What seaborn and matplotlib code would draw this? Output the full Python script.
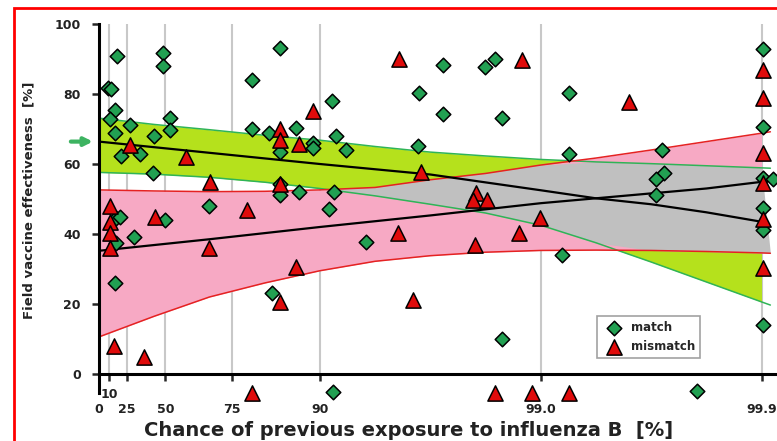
import matplotlib
matplotlib.use("Agg")
import matplotlib.pyplot as plt
from matplotlib.patches import Rectangle
import seaborn as sns
import numpy as np

# x values are in exposure units: -log10(1 - p/100), so 90% -> 1, 99% -> 2, 99.9% -> 3
match_x = [0.080, 0.292, 0.292, 0.042, 0.055, 0.073, 0.050, 0.141, 0.323, 0.073,
           0.250, 0.320, 0.098, 0.184, 0.245, 0.500, 0.077, 0.093, 0.160, 0.298,
           0.075, 0.073, 0.820, 0.693, 1.057, 0.693, 0.770, 0.890, 0.967, 0.970,
           1.073, 0.820, 1.118, 0.820, 0.820, 0.907, 1.066, 1.043, 0.785, 1.058,
           1.209, 1.557, 1.747, 1.793, 1.451, 1.557, 1.825, 1.444, 1.827, 2.127,
           2.127, 2.098, 2.550, 2.558, 2.523, 2.523, 2.709, 3.005, 3.005, 3.005,
           3.053, 3.005, 3.005, 3.005]
match_y = [90.9, 91.6, 88.1, 81.8, 81.3, 75.4, 73.0, 71.1, 73.1, 68.9,
           68.1, 69.7, 62.3, 62.9, 57.3, 48.1, 44.7, 44.9, 39.2, 44.0,
           37.3, 26.1, 93.2, 84.1, 78.1, 69.9, 68.8, 70.2, 65.9, 64.5,
           68.0, 63.5, 63.9, 54.4, 51.1, 52.0, 52.1, 47.1, 23.2, -5.1,
           37.8, 88.3, 87.7, 90.0, 80.2, 74.2, 73.1, 65.1, 9.9, 80.2,
           62.8, 34.1, 64.0, 57.3, 55.6, 51.1, -4.9, 92.8, 70.7, 55.9,
           55.6, 47.3, 41.1, 14.0]

mismatch_x = [0.141, 0.393, 0.501, 0.052, 0.050, 0.050, 0.050, 0.252, 0.066, 0.202,
              0.498, 0.970, 0.820, 0.820, 0.906, 0.820, 0.670, 0.890, 0.820, 0.694,
              1.353, 1.424, 1.792, 1.702, 1.900, 1.360, 1.914, 1.456, 1.705, 1.695,
              1.755, 1.997, 1.962, 2.130, 2.399, 3.005, 3.005, 3.005, 3.005, 3.005,
              3.005]
mismatch_y = [65.4, 62.1, 54.9, 47.9, 43.5, 40.4, 36.0, 44.9, 8.1, 5.0,
              35.9, 75.2, 69.9, 66.9, 65.7, 54.2, 46.9, 30.7, 20.7, -5.3,
              40.2, 21.1, -5.3, 36.9, 40.2, 89.9, 89.7, 57.8, 51.6, 49.6,
              49.7, 44.5, -5.3, -5.3, 77.8, 86.9, 78.8, 63.1, 54.7, 44.2,
              30.4]

# regression lines and confidence bands, read at these x positions
band_x = [0, 0.25, 0.5, 0.75, 1.0, 1.25, 1.5, 1.75, 2.0, 2.25, 2.5, 2.75, 3.0, 3.04]
match_hi = [73.1, 71.3, 69.8, 68.2, 66.8, 65.0, 63.4, 62.3, 61.3, 60.6, 60.1, 59.5, 58.9, 58.8]
match_lo = [57.6, 57.1, 56.2, 54.8, 53.0, 50.9, 48.5, 46.0, 42.5, 37.5, 32.0, 26.3, 20.6, 19.7]
mis_hi = [52.6, 52.3, 52.1, 52.2, 52.6, 53.3, 55.5, 57.3, 59.7, 61.7, 64.0, 66.4, 68.8, 69.2]
mis_lo = [10.6, 16.5, 22.0, 26.0, 29.5, 32.2, 33.8, 34.8, 35.3, 35.4, 35.3, 35.0, 34.6, 34.5]

fit_x = [0, 0.5, 1.0, 1.5, 2.0, 2.25, 2.5, 2.75, 3.0]
match_fit = [66.4, 63.2, 60.0, 57.0, 52.5, 50.2, 48.5, 46.2, 43.5]
mis_fit = [35.2, 38.5, 42.0, 45.3, 48.8, 50.2, 51.6, 53.0, 54.9]

tick_pct = [0, 25, 50, 75, 90, 99, 99.9]
tick_lab = ['0', '25', '50', '75', '90', '99.0', '99.9']
tick_pct_upper = [10]
tick_lab_upper = ['10']

sns.set_style("white")
plt.rcParams['font.family'] = ['DejaVu Sans']
plt.rcParams['font.weight'] = 'bold'

fig = plt.figure(figsize=(7.77, 4.41), dpi=100)
ax = fig.add_axes([99 / 777, 1 - 402 / 441, 678 / 777, 378 / 441])


def expo(p):
    return -np.log10(1 - np.array(p, dtype=float) / 100.0)


tick_pos = expo(tick_pct)
tick_pos_upper = expo(tick_pct_upper)

# vertical grey guides
ax.vlines(np.concatenate([tick_pos_upper, tick_pos[1:]]), 0, 100,
          color='#c8c8c8', lw=1.5, zorder=0)

bx = np.array(band_x)
inside = bx <= 3.0
m_hi, m_lo = np.array(match_hi), np.array(match_lo)
x_hi, x_lo = np.array(mis_hi), np.array(mis_lo)

ax.fill_between(bx, m_lo, m_hi, where=inside, color='#b5e11c', lw=0, zorder=1)
ax.fill_between(bx, x_lo, x_hi, where=inside, color='#f7a9c4', lw=0, zorder=1.1)
ov_lo = np.maximum(m_lo, x_lo)
ov_hi = np.minimum(m_hi, x_hi)
ax.fill_between(bx, ov_lo, ov_hi, where=(ov_hi > ov_lo) & inside, interpolate=True,
                color='#c0c0c0', lw=0, zorder=1.2)

green_line = '#2fb457'
red_line = '#e52222'
sns.lineplot(x=band_x, y=match_hi, color=green_line, lw=1.1, ax=ax, zorder=2)
sns.lineplot(x=band_x, y=match_lo, color=green_line, lw=1.1, ax=ax, zorder=2)
sns.lineplot(x=band_x, y=mis_hi, color=red_line, lw=1.1, ax=ax, zorder=2)
sns.lineplot(x=band_x, y=mis_lo, color=red_line, lw=1.1, ax=ax, zorder=2)
sns.lineplot(x=fit_x, y=match_fit, color='black', lw=1.6, ax=ax, zorder=3)
sns.lineplot(x=fit_x, y=mis_fit, color='black', lw=1.6, ax=ax, zorder=3)

sns.scatterplot(x=match_x, y=match_y, marker='D', s=55, color='#22a052',
                edgecolor='black', linewidth=1.1, label='match', ax=ax,
                zorder=5, clip_on=False)
sns.scatterplot(x=mismatch_x, y=mismatch_y, marker='^', s=120, color='#e00b0b',
                edgecolor='black', linewidth=1.1, label='mismatch', ax=ax,
                zorder=5, clip_on=False)

# green arrow at the overall estimate
ax.annotate('', xy=(-0.015, 66.4), xytext=(-0.14, 66.4),
            arrowprops=dict(arrowstyle='-|>', color='#3db361', lw=3, mutation_scale=12),
            annotation_clip=False)

ax.set_xlim(0, 3.07)
ax.set_ylim(-8, 100)
ax.spines['top'].set_visible(False)
ax.spines['right'].set_visible(False)
ax.spines['bottom'].set_position(('data', 0))
ax.spines['bottom'].set_linewidth(2.2)
ax.spines['left'].set_linewidth(2.2)
ax.spines['left'].set_bounds(-5.5, 100)
ax.spines['bottom'].set_color('black')
ax.spines['left'].set_color('black')

ax.set_xticks(tick_pos)
ax.set_xticklabels(tick_lab)
ax.set_xticks(tick_pos_upper, minor=True)
ax.set_xticklabels(tick_lab_upper, minor=True)
ax.set_yticks([0, 20, 40, 60, 80, 100])
ax.tick_params(axis='x', which='major', direction='out', length=5, width=1.8, pad=16,
               labelsize=9, labelcolor='#222222', bottom=True)
ax.tick_params(axis='x', which='minor', direction='out', length=5, width=1.8, pad=5,
               labelsize=9, labelcolor='#222222', bottom=True)
ax.tick_params(axis='y', direction='out', length=5, width=1.8, pad=8,
               labelsize=9, labelcolor='#222222', left=True)

ax.set_xlabel('Chance of previous exposure to influenza B  [%]', fontsize=14,
              fontweight='bold', color='#222222')
ax.set_ylabel('Field vaccine effectiveness  [%]', fontsize=9.5,
              fontweight='bold', color='#222222')
ax.xaxis.set_label_coords(0.457, -0.05)
ax.yaxis.set_label_coords(-0.094, 0.534)

leg = ax.legend(loc='upper left', bbox_to_anchor=(0.726, 0.243), frameon=True,
                fancybox=False, edgecolor='#8a8a8a', prop={'weight': 'bold', 'size': 8.5},
                handletextpad=0.4, borderpad=0.45, labelspacing=0.45)
leg.get_frame().set_linewidth(1.2)

fig.add_artist(Rectangle((14 / 777, -0.02), 1.0, 1 - 8 / 441 + 0.02,
                         transform=fig.transFigure, fill=False,
                         edgecolor='red', lw=2))

fig.savefig('out.png', dpi=100)
